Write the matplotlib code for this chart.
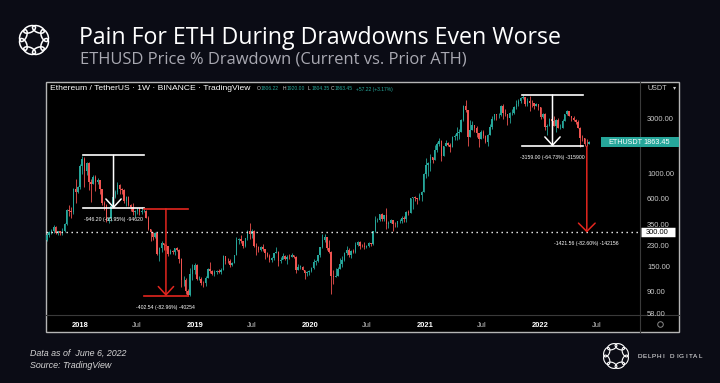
import matplotlib
matplotlib.use('Agg')
import matplotlib.pyplot as plt
import matplotlib.dates as mdates
import matplotlib.transforms as mtransforms
from matplotlib.patches import Ellipse, Rectangle
from matplotlib.ticker import NullLocator, FixedLocator, FuncFormatter
import numpy as np
import pandas as pd

# weekly ETHUSDT candles (Binance, TradingView 1W)
weeks = pd.date_range('2017-09-18', '2022-06-06', freq='W-MON')
first_open = 256
close = [
    # 2017
    283, 302, 309, 338, 295, 306, 296, 307, 354, 470, 463, 450, 720, 680, 750,
    # 2018
    1150, 1330, 1050, 1240, 830, 810, 920, 840, 865, 720, 540, 525, 380,
    400, 510, 620, 680, 790, 730, 715, 570, 620, 525, 500, 455, 460,
    490, 450, 460, 465, 405, 320, 300, 275, 295, 195, 220, 240, 232,
    226, 195, 205, 200, 218, 212, 175, 115, 115, 92, 85, 130, 140, 155,
    # 2019
    117, 117, 108, 107, 120, 144, 137, 128, 134, 138, 135, 141,
    185, 168, 167, 156, 162, 188, 260, 265, 250, 230, 268, 310, 290,
    308, 230, 225, 210, 222, 215, 196, 185, 172, 180, 197, 200, 168, 173,
    186, 175, 184, 182, 189, 184, 140, 150, 150, 141, 132, 134, 136,
    # 2020
    146, 166, 167, 189, 223, 260, 274, 218, 200, 124, 122, 125, 143,
    158, 172, 197, 210, 188, 207, 203, 231, 245, 230, 229, 225, 227,
    242, 239, 311, 386, 390, 433, 391, 428, 353, 365, 384, 355, 353,
    375, 377, 406, 396, 454, 448, 606, 610, 600, 590, 638, 685, 975,
    # 2021
    1190, 1230, 1390, 1310, 1615, 1810, 1935, 1417, 1725, 1855, 1785, 1690, 2085,
    2140, 2240, 2310, 2950, 3925, 3580, 2100, 2400, 2630, 2500, 2240, 1990, 2320,
    2130, 1890, 2190, 2560, 3010, 3310, 3225, 3225, 3925, 3410, 3330, 3060, 3390,
    3410, 3850, 4080, 4290, 4610, 4640, 4090, 4290, 4190, 4130, 3930, 4060, 3830,
    # 2022
    3150, 3350, 2540, 2600, 3010, 2870, 2600, 2920, 2500, 2520, 2860, 3300, 3520,
    3210, 3060, 2920, 2830, 2520, 2060, 2045, 1810, 1806.22, 1863.45,
]
high = [
    298, 312, 320, 349, 345, 310, 310, 330, 362, 480, 525, 500, 735, 880, 770,
    1200, 1420, 1390, 1250, 1250, 880, 960, 960, 900, 870, 730, 570, 530,
    410, 520, 640, 710, 830, 800, 740, 720, 630, 630, 530, 545, 470,
    495, 490, 505, 485, 470, 415, 325, 300, 300, 295, 225, 250, 240,
    235, 230, 215, 210, 220, 225, 215, 178, 125, 119, 95, 145, 158, 162,
    158, 125, 121, 112, 125, 146, 165, 140, 140, 140, 142, 145,
    188, 185, 178, 176, 165, 190, 276, 270, 285, 250, 270, 315, 365,
    320, 315, 240, 230, 228, 236, 215, 200, 193, 184, 198, 225, 205, 183,
    197, 190, 188, 192, 197, 191, 186, 157, 154, 153, 140, 136, 140,
    149, 175, 171, 189, 225, 289, 290, 275, 255, 204, 140, 145, 150,
    177, 187, 200, 227, 217, 212, 215, 245, 253, 250, 236, 245, 232,
    248, 244, 312, 415, 405, 440, 445, 430, 488, 377, 395, 378, 370,
    380, 394, 420, 415, 460, 475, 608, 622, 635, 600, 665, 690, 1010,
    1350, 1260, 1475, 1390, 1760, 1875, 2040, 1950, 1735, 1945, 1890, 1830, 2145,
    2200, 2545, 2430, 3000, 3980, 4370, 3580, 2910, 2890, 2650, 2600, 2250, 2380,
    2400, 2180, 2230, 2700, 3180, 3330, 3340, 3380, 3950, 4030, 3680, 3350, 3470,
    3650, 3890, 4380, 4460, 4660, 4870, 4700, 4550, 4780, 4400, 4180, 4150, 4100,
    3850, 3410, 3380, 2720, 3050, 3280, 3200, 2980, 3040, 2720, 3000, 3320, 3580,
    3560, 3220, 3200, 3030, 2960, 2550, 2150, 2050, 2000, 1920.00,
]
low = [
    252, 272, 290, 295, 291, 283, 284, 285, 300, 350, 420, 400, 440, 540, 670,
    730, 980, 750, 970, 710, 560, 810, 690, 810, 650, 520, 470, 370,
    360, 380, 500, 600, 660, 650, 650, 540, 510, 510, 460, 430, 410,
    440, 430, 440, 450, 400, 315, 250, 260, 270, 190, 168, 200, 210,
    210, 185, 195, 195, 190, 205, 160, 100, 102, 86, 82, 83, 115, 130,
    114, 115, 103, 100, 102, 118, 132, 126, 124, 130, 132, 130,
    140, 158, 160, 150, 152, 160, 188, 235, 240, 220, 225, 260, 265,
    270, 222, 188, 200, 208, 204, 176, 183, 166, 166, 173, 196, 153, 163,
    174, 170, 158, 176, 181, 177, 132, 139, 143, 139, 117, 125, 126,
    135, 142, 154, 164, 183, 217, 246, 210, 197, 86, 105, 122, 123,
    142, 150, 169, 189, 182, 180, 198, 198, 226, 215, 222, 216, 217,
    225, 227, 234, 305, 370, 375, 379, 376, 320, 330, 360, 308, 334,
    334, 360, 364, 370, 370, 427, 445, 480, 565, 530, 580, 565, 680,
    900, 950, 1040, 1220, 1300, 1550, 1740, 1290, 1410, 1720, 1730, 1550, 1685,
    1950, 1950, 1980, 2300, 2900, 3450, 1730, 2100, 2380, 2320, 2100, 1700, 1990,
    2050, 1850, 1720, 2150, 2430, 2950, 2950, 3060, 3160, 3000, 3200, 2650, 2750,
    3270, 3350, 3700, 3900, 4150, 4500, 3920, 3920, 3500, 3830, 3640, 3880, 3630,
    3000, 3040, 2400, 2160, 2580, 2840, 2580, 2300, 2490, 2450, 2500, 2860, 3260,
    3170, 2900, 2900, 2710, 2510, 1700, 1910, 1720, 1740, 1804.35,
]

# price-range tool annotations
range_start = ['2018-01-11', '2018-07-23', '2021-11-05']
range_end = ['2018-07-23', '2018-12-10', '2022-05-18']
range_top = [1434.7, 485.2, 4880.2]
range_bottom = [488.5, 82.66, 1721.2]
range_text = ['-946.20 (-65.95%) -94620', '-402.54 (-82.96%) -40254',
              '-3159.00 (-64.73%) -315900']
arrow_date = '2022-05-30'
arrow_from = 1721.2
arrow_to = 299.6
arrow_text = '-1421.56 (-82.60%) -142156'
support_level = 300

price_ticks = [58, 90, 150, 230, 350, 600, 1000, 3000]
time_ticks = ['2018-01-01', '2018-07-01', '2019-01-01', '2019-07-01', '2020-01-01',
              '2020-07-01', '2021-01-01', '2021-07-01', '2022-01-01', '2022-07-01']
time_labels = ['2018', 'Jul', '2019', 'Jul', '2020', 'Jul', '2021', 'Jul', '2022', 'Jul']
last_price = 1863.45

BG = '#0b0c15'
UP = '#26a69a'
DOWN = '#ef5350'
RED = '#e3261f'
AXC = '#c9c9c9'
tv_font = ['Liberation Sans', 'DejaVu Sans']


def draw_logo(axis, cx, cy, r, w, h, lw):
    for k in range(8):
        a = np.pi / 4 * k + np.pi / 8
        e = Ellipse((cx + r * np.cos(a), cy + r * np.sin(a)), w, h,
                    angle=np.degrees(a) + 90, fill=False, ec='white', lw=lw)
        axis.add_patch(e)


fig = plt.figure(figsize=(7.2, 3.83), dpi=100, facecolor=BG)

# overlay in pixel coordinates
ov = fig.add_axes([0, 0, 1, 1], zorder=0)
ov.set_xlim(0, 720)
ov.set_ylim(383, 0)
ov.axis('off')
ov.add_patch(Rectangle((46, 82), 633, 250, fc='black', ec='#b5b5b5', lw=1.0))
ov.plot([46, 679], [315, 315], color='#3a3a3a', lw=0.8)
ov.plot([640, 640], [82, 332], color='#3a3a3a', lw=0.8)

draw_logo(ov, 34, 40, 11.5, 12.5, 6.5, 1.1)
ov.text(79, 38, 'Pain For ETH During Drawdowns Even Worse', color='white',
        fontsize=16.7, va='center', family=['Open Sans', 'DejaVu Sans'])
ov.text(80, 60, 'ETHUSD Price % Drawdown (Current vs. Prior ATH)', color='#a9a9b2',
        fontsize=11.9, va='center', family=['Open Sans', 'DejaVu Sans'])

ov.text(50, 89, 'Ethereum / TetherUS · 1W · BINANCE · TradingView', color='white',
        fontsize=6.1, va='center', family=tv_font)
ohlc = [('O', 257, '1806.22'), ('H', 283, '1920.00'), ('L', 308, '1804.35'),
        ('C', 331, '1863.45')]
for letter, px, val in ohlc:
    ov.text(px, 89, letter, color='#d0d0d0', fontsize=3.6, va='center', family=tv_font)
    ov.text(px + 3.8, 89, val, color=UP, fontsize=3.6, va='center', family=tv_font)
ov.text(356, 89, '+57.22 (+3.17%)', color=UP, fontsize=3.6, va='center', family=tv_font)

ov.text(647, 88, 'USDT', color=AXC, fontsize=5.2, va='center', family=tv_font)
ov.text(673, 88, '▾', color=AXC, fontsize=4.5, va='center')
ov.plot(660, 324, 'o', mfc='none', mec='#8a8a8a', ms=4, mew=0.7)

ov.text(30, 353, 'Data as of  June 6, 2022', color='#d6d6d6', fontsize=6.4,
        style='italic', va='center', family=tv_font)
ov.text(30, 366, 'Source: TradingView', color='#d6d6d6', fontsize=6.4,
        style='italic', va='center', family=tv_font)
draw_logo(ov, 616, 356, 10, 10, 5.5, 0.8)
for k, ch in enumerate('DELPHI DIGITAL'):
    ov.text(640 + 4.6 * k, 356.5, ch, color='white', fontsize=4.6, va='center',
            ha='center', family=tv_font)

# main chart
ax = fig.add_axes([46 / 720, 1 - 315 / 383, 594 / 720, 233 / 383], zorder=2)
ax.patch.set_visible(False)
ax.set_yscale('log')

x = mdates.date2num(weeks)
c = np.array(close, dtype=float)
o = np.concatenate([[first_open], c[:-1]])
h = np.array(high, dtype=float)
lo = np.array(low, dtype=float)
colors = np.where(c >= o, UP, DOWN)
ax.vlines(x, lo, h, colors=colors, lw=0.6, zorder=3)
ax.bar(x, np.maximum(np.abs(c - o), 0.5), bottom=np.minimum(o, c), width=4.6,
       color=colors, lw=0, zorder=3)

ax.axhline(support_level, color='white', lw=1.0, ls=(0, (1, 2.6)), zorder=4)

for i in range(len(range_start)):
    col = RED if i == 1 else 'white'
    s = mdates.datestr2num(range_start[i])
    e = mdates.datestr2num(range_end[i])
    m = (s + e) / 2
    ax.plot([s, e], [range_top[i], range_top[i]], color=col, lw=1.2, zorder=5)
    ax.plot([s, e], [range_bottom[i], range_bottom[i]], color=col, lw=1.2, zorder=5)
    ax.annotate('', xy=(m, range_bottom[i]), xytext=(m, range_top[i]),
                arrowprops=dict(arrowstyle='->,head_length=0.6,head_width=0.55',
                                color=col, lw=1.1, shrinkA=0, shrinkB=0), zorder=5)
    ax.annotate(range_text[i], xy=(m, range_bottom[i]), xytext=(0, -8),
                textcoords='offset points', ha='center', va='center',
                color='white', fontsize=3.7, family=tv_font, zorder=6)

ad = mdates.datestr2num(arrow_date)
ax.annotate('', xy=(ad, arrow_to), xytext=(ad, arrow_from),
            arrowprops=dict(arrowstyle='->,head_length=0.6,head_width=0.6',
                            color=RED, lw=1.1, shrinkA=0, shrinkB=0), zorder=5)
ax.annotate(arrow_text, xy=(ad, arrow_to), xytext=(0, -8),
            textcoords='offset points', ha='center', va='center',
            color='white', fontsize=3.7, family=tv_font, zorder=6)

ax.set_xlim(mdates.datestr2num('2017-09-15'), mdates.datestr2num('2022-11-15'))
ax.set_ylim(56.2, 6355)

ax.yaxis.tick_right()
ax.yaxis.set_major_locator(FixedLocator(price_ticks))
ax.yaxis.set_minor_locator(NullLocator())
ax.yaxis.set_major_formatter(FuncFormatter(lambda v, p: '%.2f' % v))
ax.tick_params(axis='y', length=0, pad=5, labelsize=5.4, labelcolor=AXC)
ax.set_xticks(mdates.datestr2num(time_ticks))
ax.set_xticklabels(time_labels)
ax.tick_params(axis='x', length=0, pad=5, labelsize=5.4, labelcolor=AXC)
for t in ax.get_xticklabels() + ax.get_yticklabels():
    t.set_family(tv_font)
for t in ax.get_xticklabels():
    if t.get_text() != 'Jul':
        t.set_fontweight('bold')
        t.set_color('white')
for sp in ax.spines.values():
    sp.set_visible(False)

# price tags on the right scale
tr = mtransforms.blended_transform_factory(ax.transAxes, ax.transData)
ax.plot([0.934, 1.0657], [last_price, last_price], transform=tr, color=UP, lw=7.2,
        solid_capstyle='butt', clip_on=False, zorder=7)
ax.text(0.9475, last_price, 'ETHUSDT', transform=tr, color='white', fontsize=5.2,
        va='center', family=tv_font, clip_on=False, zorder=8)
ax.text(1.0055, last_price, '%.2f' % last_price, transform=tr, color='white',
        fontsize=5.2, va='center', family=tv_font, clip_on=False, zorder=8)
ax.plot([1.0017, 1.0589], [support_level, support_level], transform=tr, color='white',
        lw=6.8, solid_capstyle='butt', clip_on=False, zorder=7)
ax.text(1.0095, support_level, '%.2f' % support_level, transform=tr, color='black',
        fontsize=5.4, va='center', family=tv_font, clip_on=False, zorder=8)

fig.savefig('out.png', dpi=100, facecolor=BG)
